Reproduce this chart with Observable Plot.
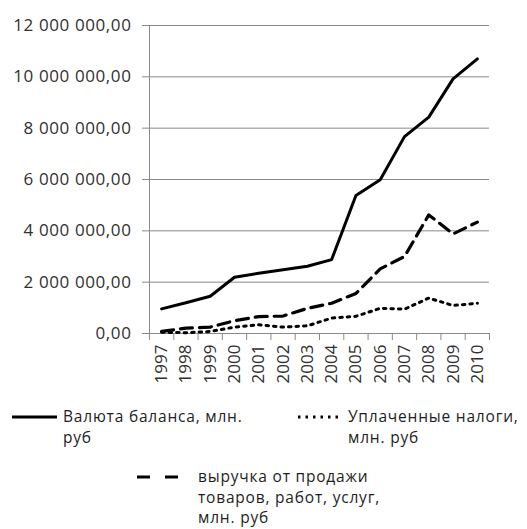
<!DOCTYPE html>
<html>
<head>
<meta charset="utf-8">
<script src="https://cdn.jsdelivr.net/npm/d3@7"></script>
<script src="https://cdn.jsdelivr.net/npm/@observablehq/plot@0.6"></script>
<style>
  html, body { margin: 0; padding: 0; background: #fff; }
  #wrap { position: relative; width: 527px; height: 529px; font-family: "Open Sans", sans-serif; color: #1e1e1e; }
  #chart { position: absolute; left: 0; top: 0; }
  .lg { position: absolute; font-size: 15.5px; letter-spacing: 0.8px; line-height: 20.5px; white-space: nowrap; }
  svg.sw { position: absolute; left: 0; top: 0; overflow: visible; }
</style>
</head>
<body>
<div id="wrap">
  <div id="chart"></div>
  <svg class="sw" width="527" height="529">
    <line x1="12" x2="57" y1="417" y2="417" stroke="#000" stroke-width="3"/>
    <line x1="298" x2="343" y1="417" y2="417" stroke="#000" stroke-width="3" stroke-dasharray="2.5,5"/>
    <line x1="137" x2="181" y1="477" y2="477" stroke="#000" stroke-width="3" stroke-dasharray="13,15"/>
  </svg>
  <div class="lg" style="left:63px; top:406px;">Валюта баланса, млн.<br>руб</div>
  <div class="lg" style="left:348px; top:406px;">Уплаченные налоги,<br>млн. руб</div>
  <div class="lg" style="left:198px; top:466px;">выручка от продажи<br>товаров, работ, услуг,<br>млн. руб</div>
</div>
<script>
const years = [1997, 1998, 1999, 2000, 2001, 2002, 2003, 2004, 2005, 2006, 2007, 2008, 2009, 2010];
const balance = [960000, 1200000, 1450000, 2190000, 2350000, 2480000, 2620000, 2880000, 5380000, 5990000, 7670000, 8430000, 9920000, 10700000];
const revenue = [80000, 210000, 250000, 500000, 660000, 680000, 980000, 1180000, 1560000, 2520000, 3000000, 4620000, 3880000, 4340000];
const taxes = [50000, 30000, 80000, 250000, 340000, 250000, 300000, 600000, 670000, 980000, 950000, 1380000, 1090000, 1180000];
const yTicks = [0, 2000000, 4000000, 6000000, 8000000, 10000000, 12000000];
const yearBounds = [1996.5, 1997.5, 1998.5, 1999.5, 2000.5, 2001.5, 2002.5, 2003.5, 2004.5, 2005.5, 2006.5, 2007.5, 2008.5, 2009.5, 2010.5];

const rows = (vals) => years.map((y, i) => ({year: y, value: vals[i]}));
const fmt = (v) => d3.format(",.2f")(v).replace(/,/g, " ").replace(".", ",");

const plot = Plot.plot({
  width: 527,
  height: 392,
  marginLeft: 149,
  marginRight: 38,
  marginTop: 25,
  marginBottom: 59,
  style: {fontFamily: "Open Sans, sans-serif", fontSize: "17px", background: "transparent"},
  x: {type: "linear", domain: [yearBounds[0], yearBounds[yearBounds.length - 1]]},
  y: {domain: [0, 12000000]},
  marks: [
    Plot.gridY(yTicks, {stroke: "#8a8a8a", strokeOpacity: 1, strokeWidth: 1}),
    Plot.ruleX([yearBounds[0]], {stroke: "#8a8a8a", strokeWidth: 1}),
    Plot.ruleY([0], {stroke: "#8a8a8a", strokeWidth: 1}),
    Plot.axisY(yTicks, {tickFormat: fmt, tickSize: 7, tickPadding: 11, stroke: "#8a8a8a", fill: "#303030", label: null, fontSize: 17}),
    Plot.axisX(yearBounds, {tickSize: 7, tickFormat: () => "", stroke: "#8a8a8a", label: null}),
    Plot.axisX(years, {tickSize: 0, tickRotate: -90, tickPadding: 11, tickFormat: (d) => String(d), fill: "#303030", label: null, fontSize: 17}),
    Plot.line(rows(taxes), {x: "year", y: "value", stroke: "#000", strokeWidth: 3, strokeDasharray: "2.5,5"}),
    Plot.line(rows(revenue), {x: "year", y: "value", stroke: "#000", strokeWidth: 3.2, strokeDasharray: "12,7"}),
    Plot.line(rows(balance), {x: "year", y: "value", stroke: "#000", strokeWidth: 3})
  ]
});
d3.select(plot).selectAll("g[aria-label='y-axis tick label'] text").style("letter-spacing", "0.6px");
document.getElementById("chart").appendChild(plot);
</script>
</body>
</html>
